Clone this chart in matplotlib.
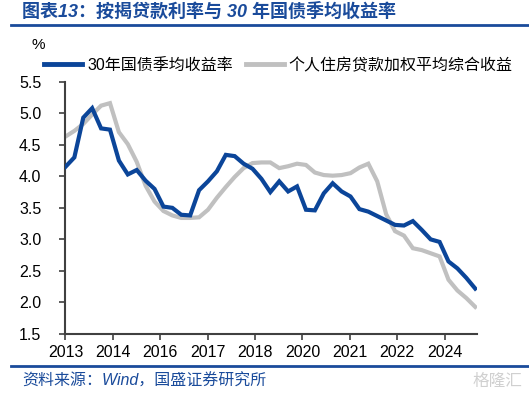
import numpy as np
import matplotlib
matplotlib.use('Agg')
import matplotlib.pyplot as plt
from matplotlib.lines import Line2D

plt.rcParams['font.family'] = ['Liberation Sans', 'Noto Sans CJK SC', 'DejaVu Sans']

# 季度数据
bond_30y = [4.15, 4.30, 4.93, 5.08, 4.76, 4.74, 4.25, 4.03, 4.10, 3.93,
            3.80, 3.52, 3.50, 3.39, 3.38, 3.78, 3.92, 4.08, 4.34, 4.32,
            4.20, 4.12, 3.96, 3.75, 3.92, 3.76, 3.84, 3.47, 3.46, 3.73,
            3.89, 3.76, 3.68, 3.48, 3.44, 3.37, 3.30, 3.23, 3.22, 3.29,
            3.15, 3.00, 2.96, 2.65, 2.54, 2.39, 2.22]
mortgage = [4.63, 4.72, 4.83, 4.98, 5.12, 5.16, 4.70, 4.51, 4.23, 3.85,
            3.60, 3.45, 3.38, 3.34, 3.34, 3.35, 3.47, 3.66, 3.83, 3.99,
            4.13, 4.21, 4.22, 4.22, 4.13, 4.16, 4.20, 4.18, 4.06, 4.02,
            4.01, 4.02, 4.05, 4.14, 4.20, 3.92, 3.40, 3.13, 3.06, 2.86,
            2.83, 2.78, 2.73, 2.36, 2.19, 2.07, 1.93]
year_labels = ['2013', '2014', '2016', '2017', '2018', '2020', '2021', '2022', '2024']

blue = '#0b4599'
gray = '#c0c0c0'
title_blue = '#1a4b9b'

fig = plt.figure(figsize=(5.29, 3.95), dpi=100)
ax = fig.add_axes([65 / 529, 1 - 334 / 395, 412 / 529, (334 - 81.7) / 395])

x = np.arange(len(bond_30y))
ax.plot(x, bond_30y, color=blue, lw=3.0, solid_joinstyle='miter', zorder=3)
ax.plot(x, mortgage, color=gray, lw=3.0, solid_joinstyle='miter', zorder=2)

ax.set_xlim(-0.05, 46.2)
ax.set_ylim(1.5, 5.5)
ax.set_yticks(np.arange(1.5, 5.51, 0.5))
ax.set_yticklabels([f'{v:.1f}' for v in np.arange(1.5, 5.51, 0.5)])
ax.set_xticks(np.arange(len(year_labels)) * 5.32)
ax.set_xticklabels(year_labels)
ax.tick_params(axis='both', labelsize=11.5, direction='out', length=4,
               width=1.2, color='#404040')
ax.tick_params(axis='y', pad=13)
ax.tick_params(axis='x', pad=4)
for s in ['top', 'right']:
    ax.spines[s].set_visible(False)
for s in ['left', 'bottom']:
    ax.spines[s].set_color('#404040')
    ax.spines[s].set_linewidth(1.5)

handles = [Line2D([], [], color=blue, lw=3.5), Line2D([], [], color=gray, lw=3.5)]
fig.legend(handles, ['30年国债季均收益率', '个人住房贷款加权平均综合收益'],
           loc='center left', bbox_to_anchor=(44 / 529, 1 - 65 / 395), ncol=2,
           frameon=False, fontsize=11.5, handlelength=2.4, handletextpad=0.3,
           columnspacing=0.8, borderaxespad=0, borderpad=0)

fig.text(32 / 529, 1 - 45 / 395, '%', fontsize=11, va='center', ha='left')

# 标题和来源
fig.text(22 / 529, 1 - 12 / 395, '图表13：按揭贷款利率与 30 年国债季均收益率',
         fontsize=13, fontweight='bold', fontstyle='italic', color=title_blue,
         va='center', ha='left')
fig.add_artist(Line2D([11 / 529, 1], [1 - 24.5 / 395, 1 - 24.5 / 395],
                      color=title_blue, lw=2))
fig.add_artist(Line2D([11 / 529, 1], [1 - 366 / 395, 1 - 366 / 395],
                      color=title_blue, lw=2))
fig.text(22 / 529, 1 - 381 / 395, '资料来源：Wind，国盛证券研究所',
         fontsize=11.5, fontstyle='italic', color=title_blue, va='center', ha='left')
fig.text(522 / 529, 1 - 381 / 395, '格隆汇', fontsize=12, color='#d0d0d0',
         va='center', ha='right')

fig.savefig('out.png', dpi=100)
